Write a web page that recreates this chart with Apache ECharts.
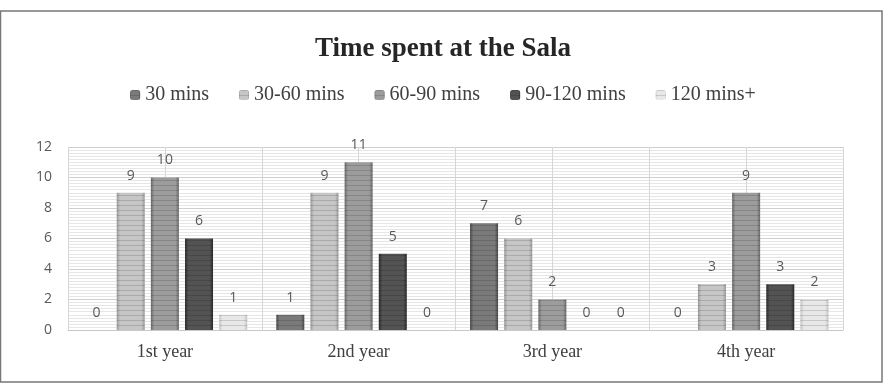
<!DOCTYPE html>
<html>
<head>
<meta charset="utf-8">
<script src="https://cdn.jsdelivr.net/npm/echarts@6/dist/echarts.min.js"></script>
<style>
  html, body { margin: 0; padding: 0; background: #fff; }
  #chart { width: 886px; height: 384px; }
</style>
</head>
<body>
<div id="chart"></div>
<script>
const categories = ['1st year', '2nd year', '3rd year', '4th year']
const seriesNames = ['30 mins', '30-60 mins', '60-90 mins', '90-120 mins', '120 mins+']
const mins30 = [0, 1, 7, 0]
const mins30to60 = [9, 9, 6, 3]
const mins60to90 = [10, 11, 2, 9]
const mins90to120 = [6, 5, 0, 3]
const mins120plus = [1, 0, 0, 2]
const yTicks = [0, 2, 4, 6, 8, 10, 12]

// edge / centre shades for the bevelled grey bars
const shades = [
  ['#4a4a4a', '#7a7a7a'],
  ['#9a9a9a', '#c6c6c6'],
  ['#6a6a6a', '#9c9c9c'],
  ['#2a2a2a', '#535353'],
  ['#c4c4c4', '#e8e8e8'],
]
const values = [mins30, mins30to60, mins60to90, mins90to120, mins120plus]

const chart = echarts.init(document.getElementById('chart'))

const barColor = c => new echarts.graphic.LinearGradient(0, 0, 1, 0, [
  { offset: 0, color: c[0] },
  { offset: 0.12, color: c[1] },
  { offset: 0.88, color: c[1] },
  { offset: 1, color: c[0] },
])

const option = {
  animation: false,
  title: {
    text: 'Time spent at the Sala',
    left: 'center',
    top: 31,
    textStyle: {
      fontFamily: 'Liberation Serif',
      fontWeight: 'bold',
      fontSize: 27,
      color: '#262626',
    },
  },
  legend: {
    top: 80,
    left: 'center',
    itemWidth: 10,
    itemHeight: 10,
    itemGap: 30,
    textStyle: {
      fontFamily: 'Liberation Serif',
      fontSize: 20,
      color: '#404040',
    },
    data: seriesNames,
  },
  graphic: [
    {
      type: 'rect',
      shape: { x: 0.5, y: 11, width: 881.5, height: 371 },
      style: { fill: 'none', stroke: '#777', lineWidth: 1.5 },
      silent: true,
    },
  ],
  grid: {
    left: 68,
    right: 43,
    top: 147,
    bottom: 54,
  },
  xAxis: [
    {
      type: 'category',
      data: categories,
      axisTick: { show: false },
      axisLine: { lineStyle: { color: '#c8c8c8' } },
      axisLabel: {
        margin: 13,
        fontFamily: 'Liberation Serif',
        fontSize: 18,
        color: '#404040',
      },
      splitLine: { show: false },
    },
    {
      // vertical grid lines at category edges and centres
      type: 'value',
      min: 0,
      max: 8,
      interval: 1,
      show: true,
      axisLine: { show: false },
      axisTick: { show: false },
      axisLabel: { show: false },
      splitLine: { show: true, lineStyle: { color: '#d6d6d6' } },
    },
  ],
  yAxis: {
    type: 'value',
    min: yTicks[0],
    max: yTicks[yTicks.length - 1],
    interval: 2,
    axisLine: { show: false },
    axisTick: { show: false },
    axisLabel: {
      margin: 16,
      fontFamily: 'Open Sans',
      fontSize: 14,
      color: '#595959',
    },
    splitLine: { lineStyle: { color: '#cfcfcf' } },
    minorTick: { show: false, splitNumber: 10 },
    minorSplitLine: { show: true, lineStyle: { color: '#e6e6e6' } },
  },
  series: seriesNames.map((name, i) => ({
    name,
    type: 'bar',
    xAxisIndex: 0,
    barWidth: 28,
    barGap: '22%',
    data: values[i],
    itemStyle: {
      color: barColor(shades[i]),
      decal: {
        symbol: 'rect',
        symbolSize: 1,
        dashArrayX: [1, 0],
        dashArrayY: [1, 4],
        rotation: 0,
        color: 'rgba(0,0,0,0.14)',
      },
    },
    label: {
      show: true,
      position: 'top',
      distance: 10,
      fontFamily: 'Open Sans',
      fontSize: 14,
      color: '#595959',
    },
  })),
}

chart.setOption(option)
</script>
</body>
</html>
